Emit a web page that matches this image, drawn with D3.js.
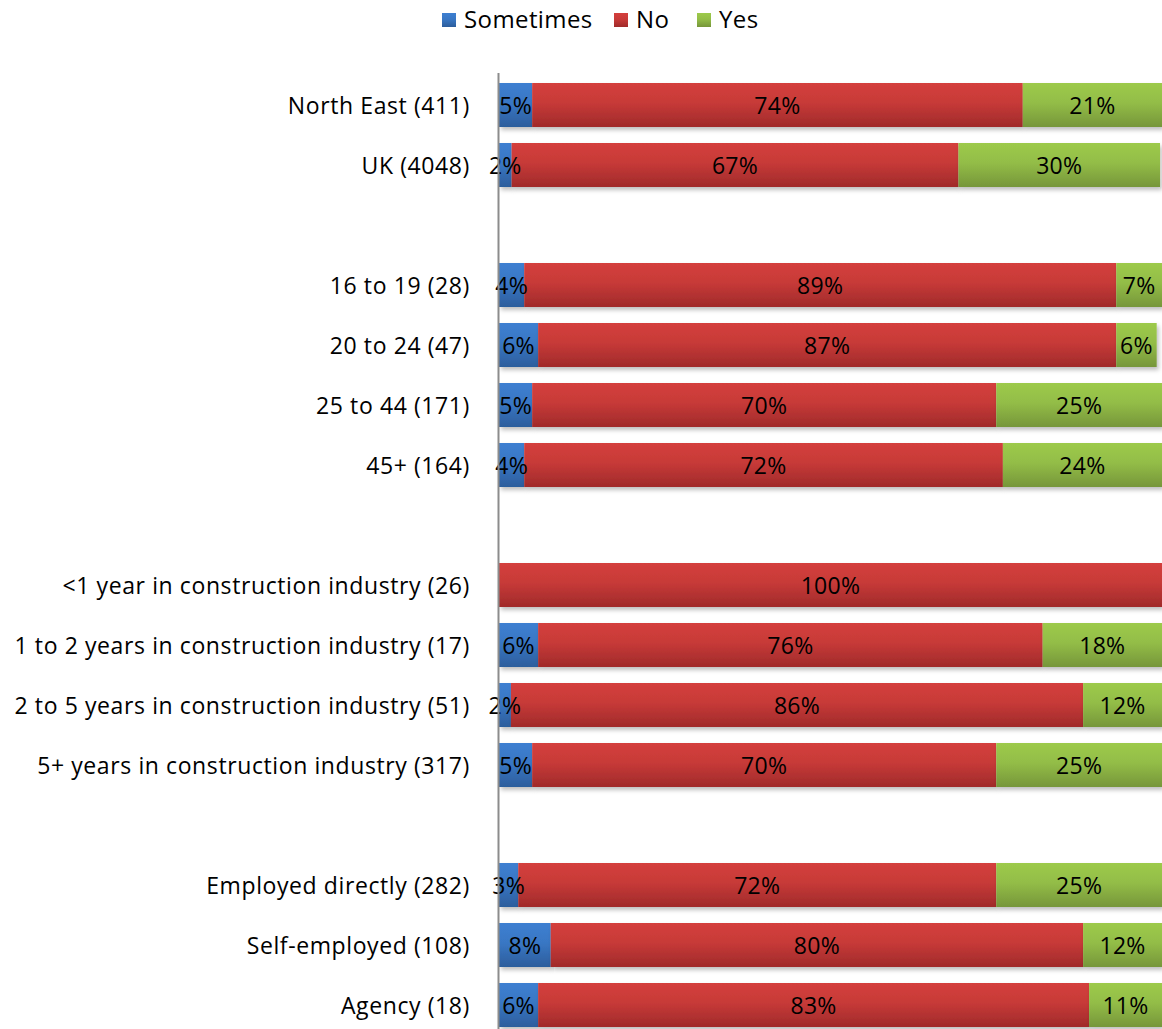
<!DOCTYPE html>
<html><head><meta charset="utf-8">
<script src="https://cdn.jsdelivr.net/npm/d3@7"></script>
<style>
html,body{margin:0;padding:0;background:#fff;}
svg text{font-family:"Open Sans",sans-serif;fill:#000;}
</style></head>
<body>
<svg id="chart" width="1162" height="1029"></svg>
<script>
const categories = [
  "North East (411)", "UK (4048)", "",
  "16 to 19 (28)", "20 to 24 (47)", "25 to 44 (171)", "45+ (164)", " ",
  "<1 year in construction industry (26)", "1 to 2 years in construction industry (17)",
  "2 to 5 years in construction industry (51)", "5+ years in construction industry (317)", "  ",
  "Employed directly (282)", "Self-employed (108)", "Agency (18)"
];
const seriesNames = ["Sometimes", "No", "Yes"];
const sometimes = [5.0, 1.9, null, 3.8, 5.9, 5.0, 3.8, null, 0, 5.9, 1.8, 5.0, null, 2.9, 7.8, 5.9];
const no        = [74.0, 67.4, null, 89.3, 87.2, 70.0, 72.2, null, 100, 76.1, 86.3, 70.0, null, 72.1, 80.3, 83.1];
const yes       = [21.0, 30.4, null, 6.9, 6.1, 25.0, 24.0, null, 0, 18.0, 11.9, 25.0, null, 25.0, 11.9, 11.0];

const colorsTop = ["#3d7fd1", "#d43f3c", "#9dca4b"];
const colorsBot = ["#2c5d9c", "#a02a2a", "#76963a"];

const svg = d3.select("#chart");
const defs = svg.append("defs");
seriesNames.forEach((s, i) => {
  const g = defs.append("linearGradient").attr("id", "grad" + i)
    .attr("x1", 0).attr("y1", 0).attr("x2", 0).attr("y2", 1);
  g.append("stop").attr("offset", "0%").attr("stop-color", colorsTop[i]);
  g.append("stop").attr("offset", "45%").attr("stop-color", d3.interpolateRgb(colorsTop[i], colorsBot[i])(0.25));
  g.append("stop").attr("offset", "100%").attr("stop-color", colorsBot[i]);
});
const f = defs.append("filter").attr("id", "shadow").attr("x", "-5%").attr("y", "-20%").attr("width", "110%").attr("height", "150%");
f.append("feDropShadow").attr("dx", 2).attr("dy", 3).attr("stdDeviation", 2).attr("flood-color", "#000").attr("flood-opacity", 0.25);

const x = d3.scaleLinear().domain([0, 100]).range([499, 1162]);
const p = 16 / 60;
const y = d3.scaleBand().domain(categories).range([75, 1035]).paddingInner(p).paddingOuter(p / 2);

const data = categories.map((c, i) => ({cat: c, Sometimes: sometimes[i], No: no[i], Yes: yes[i]}))
  .filter(d => d.No !== null);
const stack = d3.stack().keys(seriesNames).value((d, k) => d[k] || 0);
const stacked = stack(data);

const gBars = svg.append("g");
stacked.forEach((layer, i) => {
  gBars.append("g").attr("fill", `url(#grad${i})`).attr("filter", "url(#shadow)")
    .selectAll("rect").data(layer.filter(d => d[1] - d[0] > 0)).join("rect")
    .attr("x", d => x(d[0]))
    .attr("y", d => y(d.data.cat))
    .attr("width", d => x(d[1]) - x(d[0]))
    .attr("height", y.bandwidth());
});
stacked.forEach((layer, i) => {
  svg.append("g").selectAll("text").data(layer.filter(d => d[1] - d[0] > 0)).join("text")
    .attr("x", d => (x(d[0]) + x(d[1])) / 2)
    .attr("y", d => y(d.data.cat) + y.bandwidth() / 2)
    .attr("dy", "0.37em")
    .attr("text-anchor", "middle")
    .attr("font-size", 23)
    .attr("letter-spacing", 0.3)
    .text(d => Math.round(d[1] - d[0]) + "%");
});

// category axis
const axis = d3.axisLeft(y).tickSize(0).tickPadding(28)
  .tickFormat(d => d.trim());
svg.append("g").attr("transform", "translate(498,0)").call(axis)
  .call(g => g.select(".domain").remove())
  .call(g => g.selectAll("text").attr("font-size", 23).attr("letter-spacing", 0.6)
    .attr("font-family", "'Open Sans', sans-serif").attr("fill", "#000").attr("dy", "0.37em"));
svg.append("line").attr("x1", 498.5).attr("x2", 498.5).attr("y1", 73).attr("y2", 1029)
  .attr("stroke", "#8c8c8c").attr("stroke-width", 2);

// legend
const legend = svg.append("g");
const legX = [442, 614, 697];
seriesNames.forEach((s, i) => {
  legend.append("rect").attr("x", legX[i]).attr("y", 13).attr("width", 14).attr("height", 14)
    .attr("fill", `url(#grad${i})`);
  legend.append("text").attr("x", legX[i] + 22).attr("y", 28).attr("font-size", 24)
    .attr("letter-spacing", 0.4).text(s);
});
</script>
</body></html>
